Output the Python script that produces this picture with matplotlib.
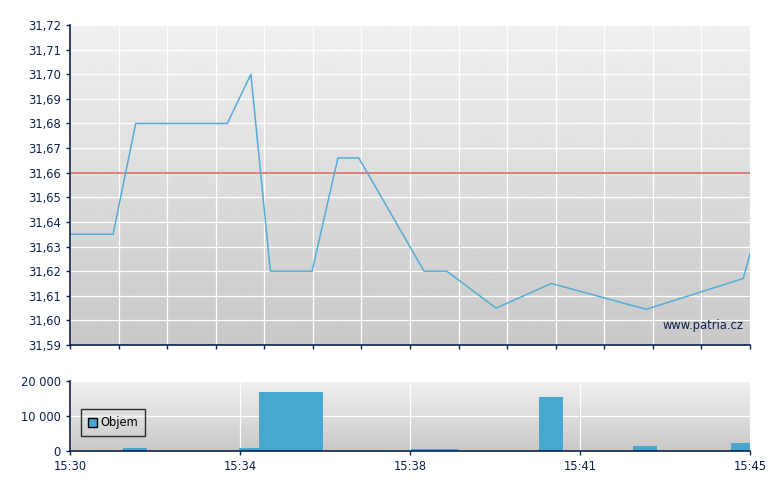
import numpy as np
import matplotlib
matplotlib.use("Agg")
import matplotlib.pyplot as plt
from matplotlib.ticker import FuncFormatter

# price trades: minutes after 15:30 and price
price_t = [0.0, 0.95, 1.45, 3.47, 3.99, 4.42, 5.34, 5.91, 6.37, 7.81, 8.31, 9.40, 10.62, 12.71, 14.85, 15.0]
price_v = [31.635, 31.635, 31.68, 31.68, 31.70, 31.62, 31.62, 31.666, 31.666, 31.62, 31.62,
           31.605, 31.615, 31.6045, 31.617, 31.627]
prev_close = 31.66

# volume bars: start / end in minutes after 15:30, volume
vol_start = [1.18, 3.72, 4.16, 7.53, 10.34, 12.42, 14.58]
vol_end = [1.70, 4.16, 5.59, 8.56, 10.87, 12.95, 15.0]
vol_v = [700, 700, 16800, 400, 15300, 1300, 2200]

time_ticks = [0, 3.75, 7.5, 11.25, 15]
time_labels = ["15:30", "15:34", "15:38", "15:41", "15:45"]

NAVY = "#0c2150"
LINE = "#55acd6"
BAR = "#47a7cf"
RED = "#d97878"


def gradient(ax):
    grad = np.linspace(0.94, 0.785, 256).reshape(-1, 1)
    ax.imshow(grad, cmap="gray", vmin=0, vmax=1, aspect="auto",
              extent=[0, 1, 0, 1], transform=ax.transAxes, zorder=0)


def style(ax):
    for s in ["top", "right"]:
        ax.spines[s].set_visible(False)
    for s in ["left", "bottom"]:
        ax.spines[s].set_color(NAVY)
        ax.spines[s].set_linewidth(1.2)
        ax.spines[s].set_zorder(5)
    ax.tick_params(direction="out", length=3, width=1, color=NAVY,
                   labelcolor=NAVY, labelsize=8.3)
    ax.set_axisbelow(True)
    ax.grid(True, color="white", linewidth=0.9)


fig = plt.figure(figsize=(7.8, 4.9), dpi=100)

# --- price chart ---
ax1 = fig.add_axes([70 / 780, 1 - 345 / 490, 680 / 780, 320 / 490])
gradient(ax1)
style(ax1)
ax1.set_xlim(0, 15)
ax1.set_ylim(31.59, 31.72)
ax1.set_yticks(np.round(np.arange(31.59, 31.7201, 0.01), 2))
ax1.yaxis.set_major_formatter(FuncFormatter(lambda v, p: f"{v:.2f}".replace(".", ",")))
ax1.set_xticks(np.linspace(0, 15, 15))
ax1.set_xticklabels([])
ax1.axhline(prev_close, color=RED, linewidth=1.3, zorder=3)
ax1.plot(price_t, price_v, color=LINE, linewidth=1.1, zorder=4)
ax1.text(0.99, 0.06, "www.patria.cz", transform=ax1.transAxes, ha="right", va="center",
         fontsize=8.3, color=NAVY, zorder=4)

# --- volume chart ---
ax2 = fig.add_axes([70 / 780, 1 - 450.7 / 490, 680 / 780, 70 / 490])
gradient(ax2)
style(ax2)
ax2.set_xlim(0, 15)
ax2.set_ylim(0, 20000)
ax2.set_yticks([0, 10000, 20000])
ax2.yaxis.set_major_formatter(FuncFormatter(lambda v, p: f"{int(v):,}".replace(",", " ")))
ax2.set_xticks(time_ticks)
ax2.set_xticklabels(time_labels)
widths = [e - s for s, e in zip(vol_start, vol_end)]
ax2.bar(vol_start, vol_v, width=widths, align="edge", color=BAR, linewidth=0,
        zorder=3, label="Objem")
leg = ax2.legend(loc="center left", bbox_to_anchor=(0.008, 0.4), fontsize=8.3,
                 frameon=True, fancybox=False, handlelength=0.8, handleheight=0.8,
                 handletextpad=0.3, borderpad=0.6, labelcolor="black")
leg.get_frame().set_edgecolor("black")
leg.get_frame().set_facecolor("none")
leg.get_frame().set_linewidth(1.0)
for h in leg.legend_handles:
    h.set_edgecolor("black")
    h.set_linewidth(1.0)

fig.savefig("out.png", dpi=100)
